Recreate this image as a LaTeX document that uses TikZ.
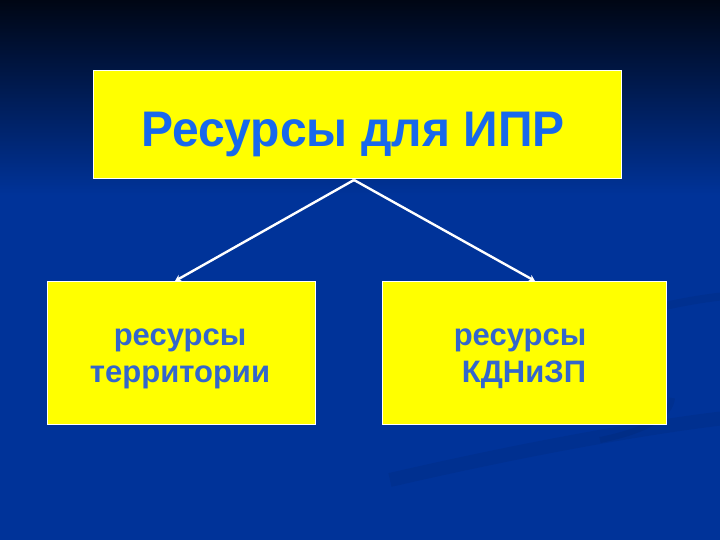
\documentclass[tikz,border=0pt]{standalone}
\usepackage{fontspec}
\setmainfont{Liberation Sans}
\usetikzlibrary{arrows.meta}
\definecolor{bgblue}{HTML}{003399}
\definecolor{bgtop}{HTML}{000614}
\definecolor{boxyellow}{HTML}{FFFF00}
\definecolor{titleblue}{HTML}{1868EC}
\definecolor{textblue}{HTML}{3366CC}
\tikzset{
  box/.style={draw=white, line width=1pt, fill=boxyellow, inner sep=0pt},
  label1/.style={anchor=base, inner sep=0pt, text=textblue, font=\bfseries\fontsize{31}{37}\selectfont},
  conn/.style={draw=white, line width=2.4pt, -{Stealth[length=6pt,width=7pt]}}
}
\begin{document}
\begin{tikzpicture}[x=1pt,y=-1pt]
\useasboundingbox (0,0) rectangle (720,540);
\fill[bgblue] (0,0) rectangle (720,540);
\shade[top color=bgtop, bottom color=bgblue] (0,0) rectangle (720,195);
% faint swooshes
\draw[black, opacity=0.06, line width=14pt] (390,480) .. controls (520,450) and (640,428) .. (725,418);
\draw[black, opacity=0.06, line width=8pt] (620,318) .. controls (660,306) and (690,300) .. (725,296);
\draw[black, opacity=0.06, line width=6pt] (600,440) .. controls (650,430) and (670,415) .. (672,398);
% boxes
\node[box, minimum width=528, minimum height=108] (top) at (357,125) {};
\node[box, minimum width=268, minimum height=143] (left) at (181,352.5) {};
\node[box, minimum width=284, minimum height=143] (right) at (524,352.5) {};
% texts
\node[anchor=base, inner sep=0pt, text=titleblue, font=\bfseries\fontsize{50}{58}\selectfont] (toptxt) at (353,147) {\scalebox{0.96}[1]{Ресурсы для ИПР}};
\node[label1] (l1) at (180,345) {ресурсы};
\node[label1] (l2) at (180,382) {территории};
\node[label1] (r1) at (520,345) {ресурсы};
\node[label1] (r2) at (524,382) {КДНиЗП};
% connectors
\coordinate (src) at (354,180);
\coordinate (lt) at (175,281);
\coordinate (rt) at (535,281);
\draw[conn] (src) -- (lt);
\draw[conn] (src) -- (rt);
\end{tikzpicture}
\end{document}
